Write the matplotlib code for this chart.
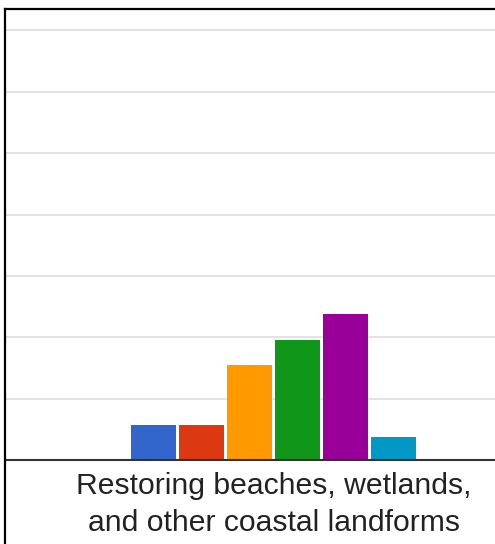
import matplotlib.pyplot as plt
from matplotlib.lines import Line2D

# データ
category = "Restoring beaches, wetlands,\nand other coastal landforms"
series_colors = ["#3366cc", "#dc3912", "#ff9900", "#109618", "#990099", "#0099c6"]
values = [5.7, 5.7, 15.5, 19.5, 23.8, 3.7]
grid_ticks = [0, 10, 20, 30, 40, 50, 60, 70]

plt.rcParams['font.family'] = ['Liberation Sans', 'DejaVu Sans']

fig = plt.figure(figsize=(4.95, 5.44), dpi=100)
ax = fig.add_axes([6 / 495, 1 - 460 / 544, 1 - 6 / 495, (460 - 9) / 544])

x = list(range(len(values)))
ax.bar(x, values, width=0.94, color=series_colors, zorder=3)

ax.set_ylim(0, 73.5)
ax.set_xlim(2.5 - 267.5 / 48, 2.5 + 221.5 / 48)
ax.set_yticks(grid_ticks)
ax.yaxis.grid(True, color="#e0e0e0", linewidth=1.3, zorder=0)
ax.tick_params(axis="y", length=0, labelleft=False)
ax.set_xticks([2.5])
ax.set_xticklabels([category], fontsize=21.7, color="#222222", linespacing=1.38)
ax.tick_params(axis="x", length=0, pad=9)
for s in ["top", "right", "left"]:
    ax.spines[s].set_visible(False)
ax.spines["bottom"].set_color("#333333")
ax.spines["bottom"].set_linewidth(1.5)
ax.spines["bottom"].set_zorder(4)

# 枠線（スクリーンショットの縁）
fig.add_artist(Line2D([5 / 495, 1], [1 - 9 / 544, 1 - 9 / 544], color="black", linewidth=1.6))
fig.add_artist(Line2D([5 / 495, 5 / 495], [0, 1 - 9 / 544], color="black", linewidth=1.6))

fig.savefig("out.png", dpi=100)
